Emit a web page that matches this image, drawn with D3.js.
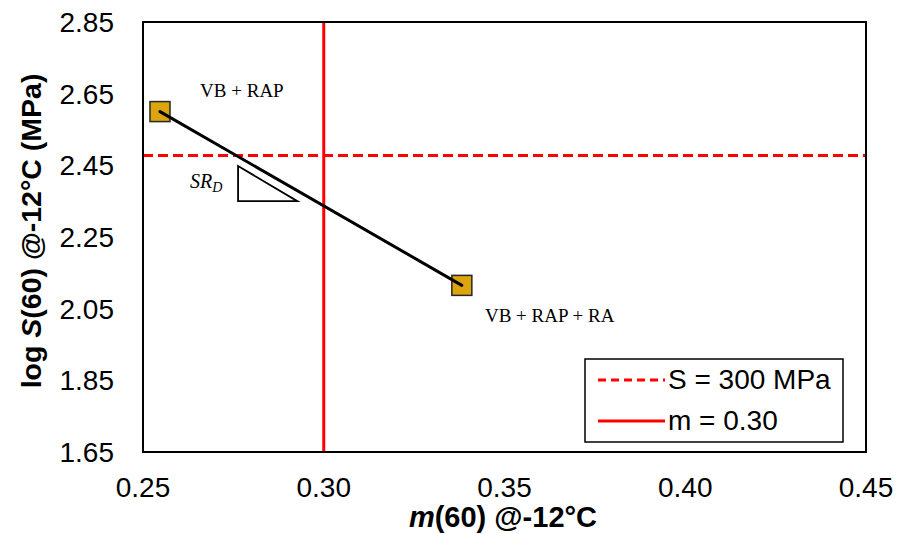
<!DOCTYPE html>
<meta charset="utf-8">
<style>
body { margin: 0; background: #fff; }
text { font-family: "Liberation Sans", Arial, sans-serif; }
.serif { font-family: "Liberation Serif", "DejaVu Serif", serif; }
</style>
<body>
<script src="https://d3js.org/d3.v7.min.js"></script>
<script>
// data
var mixNames = ["VB + RAP", "VB + RAP + RA"];
var mValues = [0.2547, 0.3382];
var logS = [2.600, 2.115];
var sLimit = Math.log10(300);   // S = 300 MPa
var mLimit = 0.30;
var xTicks = [0.25, 0.30, 0.35, 0.40, 0.45];
var yTicks = [1.65, 1.85, 2.05, 2.25, 2.45, 2.65, 2.85];
// slope triangle (data coords)
var triX = [0.2763, 0.2927];
var triY = [2.350, 2.448];

var W = 897, H = 534;
var m = {left: 143, right: 31, top: 22, bottom: 82};

var svg = d3.select("body").append("svg").attr("width", W).attr("height", H);

var x = d3.scaleLinear().domain([0.25, 0.45]).range([m.left, W - m.right]);
var y = d3.scaleLinear().domain([1.65, 2.85]).range([H - m.bottom, m.top]);

// tick labels
svg.selectAll(".yt").data(yTicks).enter().append("text")
	.attr("x", m.left - 29).attr("y", d => y(d) + 10)
	.attr("text-anchor", "end").attr("font-size", 28)
	.text(d => d.toFixed(2));
svg.selectAll(".xt").data(xTicks).enter().append("text")
	.attr("x", d => x(d)).attr("y", 497)
	.attr("text-anchor", "middle").attr("font-size", 28)
	.text(d => d.toFixed(2));

// axis titles
var xt = svg.append("text").attr("x", 503).attr("y", 527)
	.attr("text-anchor", "middle").attr("font-size", 29).attr("font-weight", "bold");
xt.append("tspan").attr("font-style", "italic").text("m");
xt.append("tspan").text("(60) @-12°C");

var yt = svg.append("text").attr("transform", "translate(41,231) rotate(-90)")
	.attr("text-anchor", "middle").attr("font-size", 28.5).attr("font-weight", "bold");
yt.append("tspan").text("log ");
yt.append("tspan").attr("font-style", "italic").text("S");
yt.append("tspan").text("(60) @-12°C (MPa)");

// reference lines
svg.append("line")
	.attr("x1", x(0.25)).attr("x2", x(0.45)).attr("y1", y(sLimit)).attr("y2", y(sLimit))
	.attr("stroke", "#ff0000").attr("stroke-width", 3).attr("stroke-dasharray", "10,5");
svg.append("line")
	.attr("x1", x(mLimit)).attr("x2", x(mLimit)).attr("y1", y(1.65)).attr("y2", y(2.85))
	.attr("stroke", "#ff0000").attr("stroke-width", 3);

// plot border
svg.append("rect")
	.attr("x", x(0.25)).attr("y", y(2.85))
	.attr("width", x(0.45) - x(0.25)).attr("height", y(1.65) - y(2.85))
	.attr("fill", "none").attr("stroke", "#000").attr("stroke-width", 2);

// markers
var pts = mValues.map((v, i) => [v, logS[i]]);
svg.selectAll(".pt").data(pts).enter().append("rect")
	.attr("x", d => x(d[0]) - 10).attr("y", d => y(d[1]) - 10)
	.attr("width", 20).attr("height", 20)
	.attr("fill", "#DCA50E").attr("stroke", "#262626").attr("stroke-width", 1.5);

// connecting line (on top of markers)
svg.append("path")
	.attr("d", d3.line().x(d => x(d[0])).y(d => y(d[1]))(pts))
	.attr("stroke", "#000").attr("stroke-width", 3).attr("fill", "none")
	.attr("stroke-linecap", "round");

// point labels
var lblPos = [[0.2658, 2.641], [0.3446, 2.013]];
svg.selectAll(".lbl").data(mixNames).enter().append("text")
	.attr("class", "serif")
	.attr("x", (d, i) => x(lblPos[i][0])).attr("y", (d, i) => y(lblPos[i][1]))
	.attr("font-size", 19).text(d => d);

// slope triangle
svg.append("path")
	.attr("d", d3.line()([[x(triX[0]), y(triY[1])], [x(triX[0]), y(triY[0])], [x(triX[1]), y(triY[0])]]) + "Z")
	.attr("fill", "none").attr("stroke", "#000").attr("stroke-width", 1.8);
var sr = svg.append("text").attr("class", "serif")
	.attr("x", 190).attr("y", 188)
	.attr("font-size", 20).attr("font-style", "italic");
sr.append("tspan").text("SR");
sr.append("tspan").attr("font-size", 14).attr("dy", 4).text("D");

// legend
var lg = svg.append("g").attr("transform", "translate(585,359)");
lg.append("rect").attr("width", 258).attr("height", 83)
	.attr("fill", "#fff").attr("stroke", "#000").attr("stroke-width", 1.5);
var legendItems = ["S = 300 MPa", "m = 0.30"];
legendItems.forEach(function(t, i) {
	var yy = 21 + i * 41;
	lg.append("line").attr("x1", 13).attr("x2", 80).attr("y1", yy).attr("y2", yy)
		.attr("stroke", "#ff0000").attr("stroke-width", 3)
		.attr("stroke-dasharray", i == 0 ? "8,5" : null);
	lg.append("text").attr("x", 83).attr("y", yy + 9).attr("font-size", 28).text(t);
});
</script>
</body>
</html>
